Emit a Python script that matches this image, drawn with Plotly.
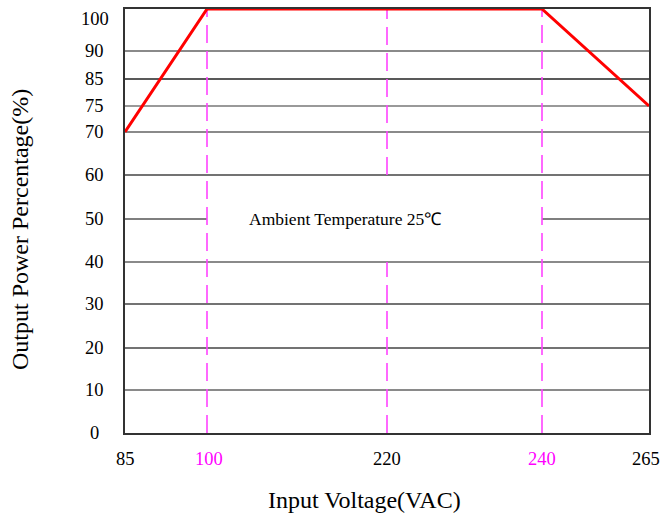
import numpy as np
import plotly.graph_objects as go

# ---- data ----
voltage = [85, 100, 240, 265]
power_pct = [70, 100, 100, 75]

x_tick_values = [85, 100, 220, 240, 265]
x_tick_colors = ["#000000", "#ff00ff", "#000000", "#ff00ff", "#000000"]
y_tick_values = [0, 10, 20, 30, 40, 50, 60, 70, 75, 85, 90, 100]

marker_voltages = [100, 220, 240]
annotation_text = "Ambient Temperature 25\u2103"
annotation_voltage = 192
annotation_power = 50

# ---- irregular axis scales (datasheet-style, non-uniform spacing) ----
X_SLOTS = [0, 82, 262, 417, 524]
Y_SLOTS = [0, 43, 85, 129, 171, 214, 258, 301, 327, 354, 382, 424]


def sx(v):
    return np.interp(v, x_tick_values, X_SLOTS)


def sy(v):
    return np.interp(v, y_tick_values, Y_SLOTS)


FONT = "Liberation Serif, Times New Roman, serif"
TICK_SIZE = 18.5

fig = go.Figure()

# gridlines
grid_styles = {
    10: ("#8a8a8a", 2.2), 20: ("#444444", 1.4), 30: ("#444444", 1.4),
    40: ("#8a8a8a", 2.2), 50: ("#555555", 1.4), 60: ("#444444", 1.4),
    70: ("#8a8a8a", 2.2), 75: ("#777777", 1.6), 85: ("#222222", 1.4),
    90: ("#8a8a8a", 2.2),
}
xmin, xmax = float(sx(x_tick_values[0])), float(sx(x_tick_values[-1]))
for v, (c, w) in grid_styles.items():
    y = float(sy(v))
    if v == 50:
        segs = [(xmin, float(sx(100))), (float(sx(240)), xmax)]
    else:
        segs = [(xmin, xmax)]
    for a, b in segs:
        fig.add_shape(type="line", xref="x", yref="y", x0=a, x1=b, y0=y, y1=y,
                      line=dict(color=c, width=w), layer="below")

# magenta dashed verticals
for mv in marker_voltages:
    x = float(sx(mv))
    if mv == 220:
        segs = [(sy(0), sy(40)), (sy(60), sy(100))]
    else:
        segs = [(sy(0), sy(100))]
    for a, b in segs:
        fig.add_shape(type="line", xref="x", yref="y", x0=x, x1=x,
                      y0=float(a), y1=float(b),
                      line=dict(color="#ff44ff", width=1.6, dash="18px,8px"),
                      layer="below")

# derating curve
fig.add_trace(go.Scatter(
    x=sx(voltage), y=sy(power_pct), mode="lines",
    line=dict(color="#ff0000", width=3), cliponaxis=False,
    hoverinfo="skip", showlegend=False,
))

fig.update_xaxes(
    range=[xmin, xmax], showticklabels=False, ticks="",
    showgrid=False, zeroline=False, automargin=False,
    showline=True, mirror=True, linecolor="#333333", linewidth=1.5,
)
fig.update_yaxes(
    range=[float(sy(0)), float(sy(100))], showticklabels=False, ticks="",
    showgrid=False, zeroline=False, automargin=False,
    showline=True, mirror=True, linecolor="#333333", linewidth=1.5,
)

W, H = 664, 518
L, R, T, B = 125, 15, 9, 85
pw, ph = W - L - R, H - T - B


def px(xp):
    return (xp - L) / pw


def py(yp):
    return (H - B - yp) / ph


tick_font = dict(family=FONT, size=TICK_SIZE, color="#000000")
annotations = []

# y tick labels: centred in a column left of the axis (top one sits just below the border)
for v in y_tick_values:
    annotations.append(dict(
        x=0, y=float(sy(v)), xref="paper", yref="y", text=str(v), showarrow=False,
        xanchor="center", yanchor="middle", xshift=-30.5,
        yshift=-10 if v == y_tick_values[-1] else 0, font=tick_font))

# x tick labels
for v, c in zip(x_tick_values, x_tick_colors):
    annotations.append(dict(
        x=float(sx(v)), y=0, xref="x", yref="paper", text=str(v), showarrow=False,
        xanchor="center", yanchor="middle", yshift=-26,
        xshift=-3 if v == x_tick_values[-1] else (2 if v == 100 else 0),
        font=dict(family=FONT, size=TICK_SIZE, color=c)))

annotations += [
    dict(x=float(sx(annotation_voltage)), y=float(sy(annotation_power)), xref="x", yref="y",
         text=annotation_text, showarrow=False, xanchor="center", yanchor="middle",
         font=dict(family=FONT, size=17.5, color="#000000")),
    dict(x=px(364), y=py(500), xref="paper", yref="paper", text="Input Voltage(VAC)",
         showarrow=False, xanchor="center", yanchor="middle",
         font=dict(family=FONT, size=24, color="#000000")),
    dict(x=px(20), y=py(230), xref="paper", yref="paper", text="Output Power Percentage(%)",
         showarrow=False, textangle=-90, xanchor="center", yanchor="middle",
         font=dict(family=FONT, size=24, color="#000000")),
]

fig.update_layout(
    width=W, height=H, margin=dict(l=L, r=R, t=T, b=B, autoexpand=False),
    paper_bgcolor="white", plot_bgcolor="white",
    annotations=annotations, showlegend=False,
    font=dict(family=FONT),
)

fig.write_html(
    "out.html",
    config={"displayModeBar": False},
    post_script="document.body.style.margin='0';document.body.style.overflow='hidden';",
)
